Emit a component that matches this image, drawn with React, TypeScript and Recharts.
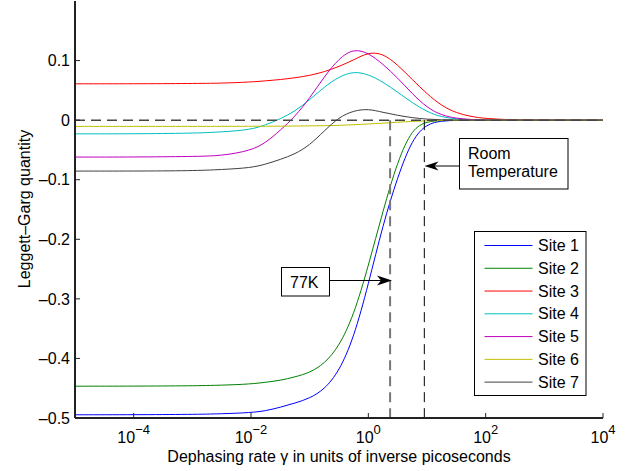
import React from "react";
import { LineChart, Line, XAxis, YAxis, ReferenceLine } from "recharts";

// log10 of the dephasing rate at which the curves were read
const logGamma = [-5, -4, -3, -2.5, -2, -1.75, -1.5, -1.25, -1, -0.75, -0.5, -0.25, 0, 0.25, 0.5, 0.75, 1, 1.25, 1.5, 1.75, 2, 2.5, 3, 4];

const site1 = [-0.4946, -0.4945, -0.494, -0.493, -0.491, -0.488, -0.482, -0.475, -0.467, -0.452, -0.422, -0.366, -0.276, -0.175, -0.095, -0.031, -0.006, -0.0012, -0.0003, 0, 0, 0, 0, 0];
const site2 = [-0.4466, -0.4465, -0.446, -0.445, -0.443, -0.44, -0.437, -0.431, -0.424, -0.409, -0.38, -0.328, -0.245, -0.152, -0.068, -0.014, -0.002, -0.0005, 0, 0, 0, 0, 0, 0];
const site3 = [0.061, 0.061, 0.0615, 0.062, 0.064, 0.066, 0.068, 0.071, 0.075, 0.081, 0.09, 0.101, 0.114, 0.112, 0.093, 0.068, 0.044, 0.024, 0.012, 0.006, 0.0025, 0.0004, 0, 0];
const site4 = [-0.023, -0.023, -0.022, -0.02, -0.016, -0.008, 0.002, 0.015, 0.034, 0.056, 0.073, 0.082, 0.077, 0.064, 0.047, 0.029, 0.014, 0.005, 0.002, 0.0005, 0, 0, 0, 0];
const site5 = [-0.062, -0.062, -0.061, -0.06, -0.051, -0.038, -0.017, 0.006, 0.037, 0.073, 0.104, 0.12, 0.113, 0.094, 0.071, 0.044, 0.021, 0.008, 0.003, 0.001, 0, 0, 0, 0];
const site6 = [-0.0105, -0.0105, -0.0105, -0.0104, -0.0103, -0.0102, -0.0101, -0.0099, -0.0097, -0.0093, -0.0088, -0.0077, -0.0065, -0.005, -0.0035, -0.002, -0.001, -0.0005, -0.0002, -0.0001, 0, 0, 0, 0];
const site7 = [-0.0855, -0.0855, -0.085, -0.083, -0.08, -0.074, -0.066, -0.057, -0.042, -0.018, 0.005, 0.016, 0.019, 0.013, 0.008, 0.004, 0.0015, 0.0005, 0, 0, 0, 0, 0, 0];

const siteNames = ["Site 1", "Site 2", "Site 3", "Site 4", "Site 5", "Site 6", "Site 7"];
const siteColors = ["#0000FF", "#008000", "#FF0000", "#00BFBF", "#BF00BF", "#BFBF00", "#404040"];
const siteValues = [site1, site2, site3, site4, site5, site6, site7];

const xTicks = [1e-4, 1e-2, 1, 1e2, 1e4];
const yTicks = [-0.5, -0.4, -0.3, -0.2, -0.1, 0, 0.1];

// dephasing rates marked by the dashed lines
const gamma77K = 2.35;
const gammaRoom = 9.0;

const AXIS = "#222";
const FONT = "'Liberation Sans', Arial, Helvetica, sans-serif";

const data = logGamma.map((e, i) => {
  const row: Record<string, number> = { gamma: 10 ** e };
  siteNames.forEach((name, k) => {
    row[name] = siteValues[k][i];
  });
  return row;
});

function fmtY(v: number) {
  if (Math.abs(v) < 1e-9) return "0";
  return v < 0 ? `\u2013${Math.abs(v).toFixed(1)}` : v.toFixed(1);
}

function BottomTick({ x, y, payload }: any) {
  const exp = Math.round(Math.log10(payload.value));
  return (
    <g>
      <line x1={x} y1={y} x2={x} y2={y - 5} stroke={AXIS} />
      <text x={x} y={y + 25} textAnchor="middle" fontSize={16} fill="#000" fontFamily={FONT}>
        10
        <tspan dy={-9} fontSize={13}>
          {exp < 0 ? `\u2212${-exp}` : `${exp}`}
        </tspan>
      </text>
    </g>
  );
}

function TopTick({ x, y }: any) {
  return <line x1={x} y1={y} x2={x} y2={y + 5} stroke={AXIS} />;
}

function LeftTick({ x, y, payload }: any) {
  return (
    <g>
      <line x1={x} y1={y} x2={x + 5} y2={y} stroke={AXIS} />
      <text x={x - 5} y={y} dy="0.36em" textAnchor="end" fontSize={16} fill="#000" fontFamily={FONT}>
        {fmtY(payload.value)}
      </text>
    </g>
  );
}

function RightTick({ x, y }: any) {
  return <line x1={x} y1={y} x2={x - 5} y2={y} stroke={AXIS} />;
}

function Overlay() {
  const legendX = 474.5;
  const legendY = 231.5;
  const rowH = 22.77;
  return (
    <svg
      width={638}
      height={471}
      style={{ position: "absolute", left: 0, top: 0, pointerEvents: "none" }}
      fontFamily={FONT}
    >
      <text transform="translate(30,209) rotate(-90)" textAnchor="middle" fontSize={16} fill="#000">
        Leggett–Garg quantity
      </text>

      {/* Room temperature note */}
      <rect x={459.5} y={138.5} width={108.5} height={50.5} fill="#fff" stroke="#000" />
      <text x={468} y={159} fontSize={16} fill="#000">Room</text>
      <text x={468} y={177} fontSize={16} fill="#000">Temperature</text>
      <line x1={434} y1={166} x2={459.5} y2={166} stroke="#000" />
      <polygon points="424.5,166 438.5,161.5 434.5,166 438.5,170.5" fill="#000" />

      {/* 77K note */}
      <rect x={281.5} y={267.5} width={48} height={28.5} fill="#fff" stroke="#000" />
      <text x={290} y={288} fontSize={16} fill="#000">77K</text>
      <line x1={329.5} y1={280.5} x2={382} y2={280.5} stroke="#000" />
      <polygon points="392,280.5 377,275.5 381,280.5 377,285.5" fill="#000" />

      {/* legend */}
      <rect x={legendX} y={legendY} width={111.5} height={164} fill="#fff" stroke="#000" />
      {siteNames.map((name, i) => {
        const cy = legendY + 14 + i * rowH;
        return (
          <g key={name}>
            <line x1={484.5} y1={cy} x2={532.5} y2={cy} stroke={siteColors[i]} />
            <text x={538} y={cy + 5.5} fontSize={16} fill="#000">
              {name}
            </text>
          </g>
        );
      })}
    </svg>
  );
}

export default function App() {
  return (
    <div
      style={{
        position: "absolute",
        left: 0,
        top: 0,
        width: 638,
        height: 471,
        background: "#fff",
        fontFamily: FONT,
      }}
    >
      <LineChart width={638} height={471} data={data} margin={{ top: 1, right: 35, bottom: 0, left: 0 }}>
        <XAxis
          dataKey="gamma"
          type="number"
          scale="log"
          domain={[1e-5, 1e4]}
          ticks={xTicks}
          interval={0}
          allowDataOverflow
          height={53}
          tickSize={0}
          tickMargin={0}
          tick={<BottomTick />}
          axisLine={{ stroke: AXIS, strokeWidth: 2 }}
          label={{ value: "Dephasing rate \u03b3 in units of inverse picoseconds", position: "insideBottom", offset: 9, fontSize: 16, fill: "#000" }}
        />
        <XAxis
          xAxisId="top"
          orientation="top"
          dataKey="gamma"
          type="number"
          scale="log"
          domain={[1e-5, 1e4]}
          ticks={xTicks}
          interval={0}
          allowDataOverflow
          height={0}
          tickSize={0}
          tickMargin={0}
          tick={<TopTick />}
          axisLine={{ stroke: AXIS, strokeWidth: 2 }}
        />
        <YAxis
          type="number"
          domain={[-0.5, 0.2]}
          ticks={yTicks}
          interval={0}
          allowDataOverflow
          width={75}
          tickSize={0}
          tickMargin={0}
          tick={<LeftTick />}
          axisLine={{ stroke: AXIS, strokeWidth: 2 }}
        />
        <YAxis
          yAxisId="r"
          orientation="right"
          type="number"
          domain={[-0.5, 0.2]}
          ticks={yTicks}
          interval={0}
          allowDataOverflow
          width={0}
          tickSize={0}
          tickMargin={0}
          tick={<RightTick />}
          axisLine={{ stroke: AXIS, strokeWidth: 2 }}
        />
        {siteNames.map((name, i) => (
          <Line
            key={name}
            dataKey={name}
            type="basis"
            stroke={siteColors[i]}
            strokeWidth={1}
            dot={false}
            activeDot={false}
            isAnimationActive={false}
          />
        ))}
        <ReferenceLine y={0} stroke="#444" strokeWidth={1.5} strokeDasharray="10 6" />
        <ReferenceLine
          segment={[
            { x: gamma77K, y: 0 },
            { x: gamma77K, y: -0.5 },
          ]}
          stroke="#777"
          strokeWidth={2}
          strokeDasharray="10 6"
        />
        <ReferenceLine
          segment={[
            { x: gammaRoom, y: 0 },
            { x: gammaRoom, y: -0.5 },
          ]}
          stroke="#000"
          strokeWidth={1}
          strokeDasharray="10 6"
        />
      </LineChart>
      <Overlay />
    </div>
  );
}
